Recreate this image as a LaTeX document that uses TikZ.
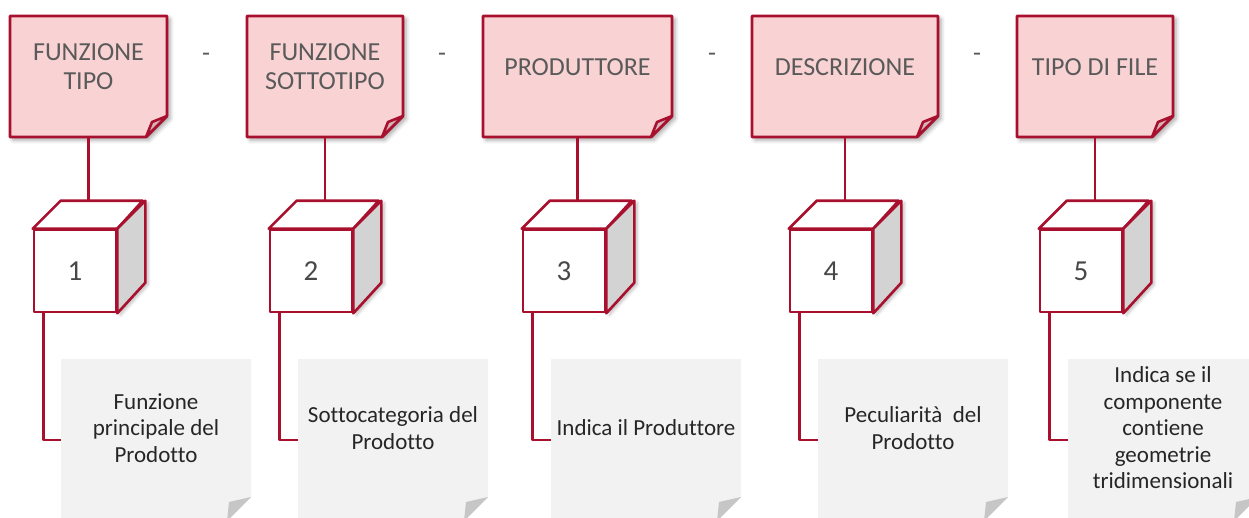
\documentclass[tikz,border=0pt]{standalone}
\usepackage{fontspec}
\setmainfont{Carlito}[Ligatures=NoCommon]
\usetikzlibrary{calc,shadows.blur}
\definecolor{redline}{HTML}{A8102E}
\definecolor{pinkfill}{HTML}{F9D2D3}
\definecolor{flapfill}{HTML}{D4B5B9}
\definecolor{notegray}{HTML}{F2F2F2}
\definecolor{flapgray}{HTML}{C6C6C6}
\definecolor{cubeside}{HTML}{D3D3D3}
\definecolor{toptext}{HTML}{5A5A5A}
\definecolor{bottext}{HTML}{262626}
\begin{document}
\begin{tikzpicture}[x=1pt,y=-1pt,
  redl/.style={draw=redline,line width=2.6pt,line join=round},
  softshadow/.style={blur shadow={shadow xshift=3pt,shadow yshift=-3pt,shadow blur radius=4pt,shadow opacity=35}},
  anchorbox/.style={inner sep=0pt,outer sep=0pt},
  toplabel/.style={align=center,inner sep=0pt,text=toptext,font=\fontsize{26}{29}\selectfont},
  botlabel/.style={align=center,inner sep=0pt,text=bottext,font=\fontsize{23}{26.5}\selectfont},
  dashlabel/.style={inner sep=0pt,text=toptext,font=\fontsize{26}{29}\selectfont},
  cubefront/.style={redl,fill=white,inner sep=0pt,minimum width=82pt,minimum height=82pt,text=toptext!80!black,font=\fontsize{29}{32}\selectfont}
]
\useasboundingbox (0,0) rectangle (1249,517);

% bottom gray notes
\foreach \i/\L/\t in {1/61/{Funzione\\principale del\\Prodotto},
                      2/298/{Sottocategoria del\\Prodotto},
                      3/551/{Indica il Produttore},
                      4/818/{Peculiarità~ del\\Prodotto},
                      5/1068/{Indica se il\\componente\\contiene\\geometrie\\tridimensionali}}{
  \pgfmathsetmacro\C{\L+95}
  \node[anchorbox,minimum width=190pt,minimum height=162pt] (g\i) at (\C,440) {};
  \fill[notegray] (g\i.north west) -- (g\i.north east) -- ($(g\i.south east)+(0,-24)$)
     -- ($(g\i.south east)+(-24,0)$) -- (g\i.south west) -- cycle;
  \fill[flapgray] ($(g\i.south east)+(0,-24)$) -- ($(g\i.south east)+(-22,-19)$)
     -- ($(g\i.south east)+(-24,0)$) -- cycle;
  \node[botlabel] (gt\i) at (\C,428) {\t};
}

% top pink notes
\foreach \i/\L/\R/\t in {1/10/167/{FUNZIONE\\TIPO},
                         2/247/403/{FUNZIONE\\SOTTOTIPO},
                         3/483/672/{PRODUTTORE},
                         4/752/938/{DESCRIZIONE},
                         5/1017/1173/{TIPO DI FILE}}{
  \pgfmathsetmacro\W{\R-\L}
  \pgfmathsetmacro\C{(\L+\R)/2}
  \node[anchorbox,minimum width=\W pt,minimum height=121pt] (n\i) at (\C,76.5) {};
  \path[softshadow,fill=pinkfill,redl] (n\i.north west) -- (n\i.north east)
     -- ($(n\i.south east)+(0,-21)$) -- ($(n\i.south east)+(-21,0)$) -- (n\i.south west) -- cycle;
  \draw[redl,fill=flapfill] ($(n\i.south east)+(-21,0)$) -- ($(n\i.south east)+(-15,-15)$)
     -- ($(n\i.south east)+(0,-21)$) -- cycle;
  \node[toplabel] (t\i) at (\C,67) {\t};
}

% dashes between notes
\node[dashlabel] (d1) at (206,57) {-};
\node[dashlabel] (d2) at (442,57) {-};
\node[dashlabel] (d3) at (712,57) {-};
\node[dashlabel] (d4) at (977,57) {-};

% cubes and connectors
\foreach \i/\L in {1/34,2/270,3/523,4/790,5/1040}{
  \pgfmathsetmacro\C{\L+41}
  \node[cubefront] (c\i) at (\C,271) {\i};
  \coordinate (k\i) at ($(c\i.north west)+(28,-28)$);
  \draw[redl] (n\i.south) -- (n\i.south |- k\i);
  \draw[redl,fill=white] (c\i.north west) -- (k\i) -- ++(82,0) -- (c\i.north east) -- cycle;
  \path[redl,fill=cubeside,blur shadow={shadow xshift=3pt,shadow yshift=-2pt,shadow blur radius=3pt,shadow opacity=25}]
     (c\i.north east) -- ++(28,-28) -- ++(0,82) -- (c\i.south east) -- cycle;
  \draw[redl] ($(c\i.south west)+(11,0)$) |- (g\i.west);
}
\end{tikzpicture}
\end{document}
